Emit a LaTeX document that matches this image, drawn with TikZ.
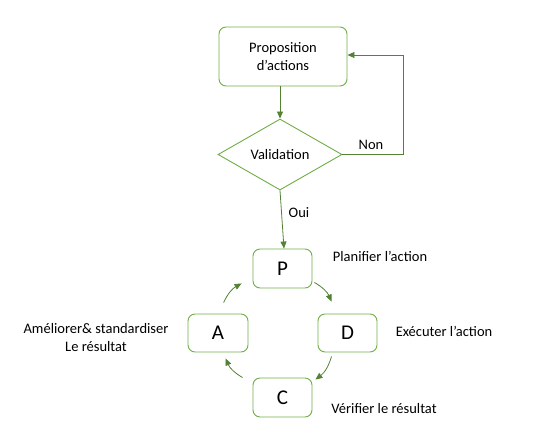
\documentclass[tikz,border=0pt]{standalone}
\usepackage{fontspec}
\setmainfont{Carlito}
\usetikzlibrary{arrows.meta,shapes.geometric}
\definecolor{boxgreen}{HTML}{70AD47}
\definecolor{arrgreen}{HTML}{548235}
\begin{document}
\begin{tikzpicture}[x=1pt,y=-1pt,
  rbox/.style={draw=boxgreen,line width=0.9pt,rounded corners=7pt,inner sep=0pt,align=center},
  dia/.style={draw=boxgreen,line width=0.9pt,diamond,inner sep=0pt,minimum width=124pt,minimum height=71pt,aspect=1.75},
  conn/.style={draw=arrgreen,line width=0.8pt,-{Triangle[length=7pt,width=6pt]}},
  cyc/.style={draw=arrgreen,line width=0.8pt,-{Triangle[length=7pt,width=6pt]}},
  lbl/.style={font=\fontsize{14.5}{18.5}\selectfont,align=center,inner sep=0pt},
  big/.style={font=\fontsize{21}{22}\selectfont}]
\useasboundingbox (0,0) rectangle (554,445);
\node[rbox,minimum width=128pt,minimum height=59pt,lbl] (prop) at (283,56.5) {Proposition\\d’actions};
\node[dia,lbl] (val) at (280,154.5) {Validation};
\node[rbox,minimum width=59pt,minimum height=39pt,big] (P) at (282.5,268.5) {P};
\node[rbox,minimum width=60pt,minimum height=38pt,big] (A) at (218,333) {A};
\node[rbox,minimum width=59pt,minimum height=38pt,big] (D) at (347.5,333) {D};
\node[rbox,minimum width=59pt,minimum height=39pt,big] (C) at (282.5,397.5) {C};
\coordinate (nonc) at (403,154.5);
\coordinate (nont) at (403,55);
\draw[conn] (val.north |- prop.south) -- (val.north);
\draw[conn] (val.east) -- (nonc) -- (nont) -- (prop.east |- nont);
\draw[conn] (val.south) -- ([xshift=1.5pt]P.north);
\node[lbl] (non) at (371,145) {Non};
\node[lbl] (oui) at (299,213) {Oui};
\draw[cyc] ([shift={(2,-6)}]P.south east) to[bend left=18] ([shift={(14,-12)}]D.north west);
\draw[cyc] ([shift={(14,4)}]D.south west) to[bend left=18] ([shift={(3,2)}]C.north east);
\draw[cyc] ([shift={(-10,0)}]C.north west) to[bend left=18] ([shift={(38,6)}]A.south west);
\draw[cyc] ([shift={(36,-11)}]A.north west) to[bend left=18] ([shift={(-11,-5)}]P.south west);
\node[lbl] (tp) at (380,256) {Planifier l’action};
\node[lbl] (td) at (444,331) {Exécuter l’action};
\node[lbl] (tc) at (384,409) {Vérifier le résultat};
\node[lbl] (ta) at (96,337.5) {Améliorer\& standardiser\\Le résultat};
\end{tikzpicture}
\end{document}
